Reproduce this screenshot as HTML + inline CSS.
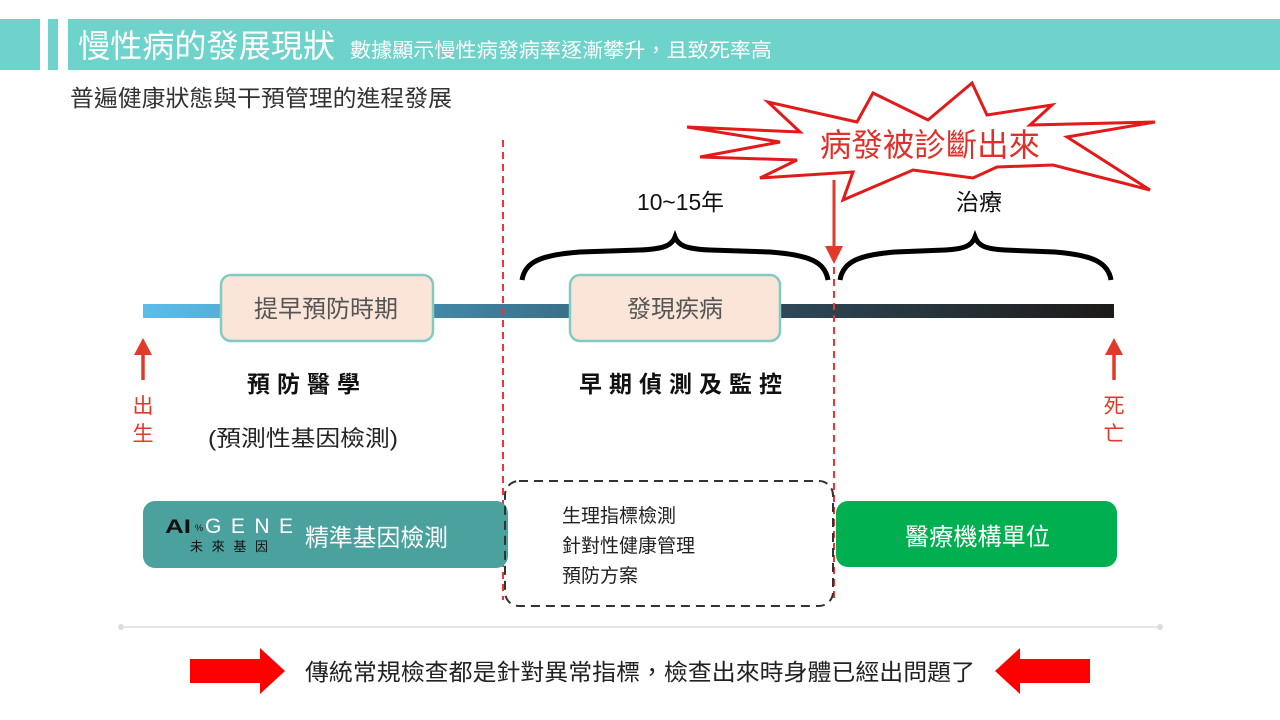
<!DOCTYPE html>
<html><head><meta charset="utf-8"><style>
html,body{margin:0;padding:0;background:#fff;}
svg{display:block;}
text{font-family:"Liberation Sans","Noto Sans CJK TC",sans-serif;}
</style></head><body>
<svg width="1280" height="720" viewBox="0 0 1280 720" xmlns="http://www.w3.org/2000/svg">
<defs>
<linearGradient id="tl" x1="0" x2="1" y1="0" y2="0">
<stop offset="0" stop-color="#5cbdea"/>
<stop offset="0.35" stop-color="#3f7f9c"/>
<stop offset="0.65" stop-color="#2e4a5a"/>
<stop offset="1" stop-color="#1e1a18"/>
</linearGradient>
</defs>
<rect x="0" y="19" width="40" height="51" fill="#6dd3cb"/>
<rect x="48" y="19" width="10" height="51" fill="#6dd3cb"/>
<rect x="68" y="19" width="1212" height="51" fill="#6dd3cb"/>
<text x="78" y="57" font-size="32" fill="#fff" textLength="257" lengthAdjust="spacingAndGlyphs">慢性病的發展現狀</text>
<text x="350" y="57" font-size="20" fill="#fff" textLength="422" lengthAdjust="spacingAndGlyphs">數據顯示慢性病發病率逐漸攀升，且致死率高</text>
<text x="70" y="106" font-size="23" fill="#333" textLength="382" lengthAdjust="spacingAndGlyphs">普遍健康狀態與干預管理的進程發展</text>

<rect x="143" y="304" width="971" height="14" fill="url(#tl)"/>
<rect x="221" y="275" width="212" height="66" rx="10" fill="#fae5d8" stroke="#82cbc2" stroke-width="2.5"/>
<text x="254" y="317" font-size="24" fill="#555" textLength="144" lengthAdjust="spacingAndGlyphs">提早預防時期</text>
<rect x="570" y="275" width="210" height="66" rx="10" fill="#fae5d8" stroke="#82cbc2" stroke-width="2.5"/>
<text x="627" y="317" font-size="24" fill="#555" textLength="96" lengthAdjust="spacingAndGlyphs">發現疾病</text>

<line x1="503" y1="140" x2="503" y2="600" stroke="#e33" stroke-width="2" stroke-dasharray="7,5"/>
<line x1="834" y1="255" x2="834" y2="600" stroke="#e33" stroke-width="2" stroke-dasharray="7,5"/>

<path d="M522,280 C525,262 540,255 580,252 L640,250 C665,249 672,245 675,237 C678,245 685,249 710,250 L770,252 C810,255 825,262 828,280" fill="none" stroke="#000" stroke-width="5"/>
<path d="M840,280 C843,262 858,255 895,252 L945,250 C966,249 972,245 975,237 C978,245 984,249 1005,250 L1055,252 C1092,255 1108,262 1111,280" fill="none" stroke="#000" stroke-width="5"/>
<text x="637" y="210" font-size="23" fill="#111" textLength="87" lengthAdjust="spacingAndGlyphs">10~15年</text>
<text x="956" y="210" font-size="23" fill="#111" textLength="46" lengthAdjust="spacingAndGlyphs">治療</text>

<polygon points="687,127 800,132 768,102 857,122 873,93 928,120 972,83 987,115 1052,105 1030,125 1155,122 1067,137 1150,190 1053,165 997,167 973,178 913,170 843,200 853,172 760,178 797,160 700,157 780,142" fill="#fff" stroke="#e21a1a" stroke-width="3" stroke-linejoin="miter"/>
<text x="820" y="156" font-size="32" fill="#e0302a" textLength="220" lengthAdjust="spacingAndGlyphs">病發被診斷出來</text>
<line x1="834" y1="180" x2="834" y2="248" stroke="#e23a2a" stroke-width="3"/>
<polygon points="825,246 843,246 834,264" fill="#e23a2a"/>

<line x1="143" y1="380" x2="143" y2="352" stroke="#e23a2a" stroke-width="3.5"/>
<polygon points="134,355 152,355 143,338" fill="#e23a2a"/>
<text x="143" y="413" font-size="21" fill="#e23a2a" text-anchor="middle">出</text>
<text x="143" y="441" font-size="21" fill="#e23a2a" text-anchor="middle">生</text>
<line x1="1114" y1="380" x2="1114" y2="352" stroke="#e23a2a" stroke-width="3.5"/>
<polygon points="1105,355 1123,355 1114,338" fill="#e23a2a"/>
<text x="1114" y="413" font-size="21" fill="#e23a2a" text-anchor="middle">死</text>
<text x="1114" y="441" font-size="21" fill="#e23a2a" text-anchor="middle">亡</text>

<text x="247" y="392" font-size="23" font-weight="bold" fill="#111" textLength="113" lengthAdjust="spacing">預防醫學</text>
<text x="208" y="446" font-size="22" fill="#222" textLength="190" lengthAdjust="spacingAndGlyphs">(預測性基因檢測)</text>
<text x="579" y="392" font-size="23" font-weight="bold" fill="#111" textLength="203" lengthAdjust="spacing">早期偵測及監控</text>

<rect x="143" y="501" width="365" height="67" rx="12" fill="#4aa19e"/>
<text x="165" y="533" font-size="19" font-weight="bold" fill="#111" textLength="26" lengthAdjust="spacingAndGlyphs">AI</text>
<text x="195" y="531" font-size="9" fill="#111">%</text>
<text x="205" y="533" font-size="21" fill="#fff" textLength="88" lengthAdjust="spacing">GENE</text>
<text x="190" y="551" font-size="13" fill="#111" textLength="78" lengthAdjust="spacing">未來基因</text>
<text x="305" y="546" font-size="24" fill="#fff" textLength="143" lengthAdjust="spacingAndGlyphs">精準基因檢測</text>

<rect x="505" y="481" width="328" height="125" rx="14" fill="none" stroke="#333" stroke-width="2" stroke-dasharray="9,6"/>
<text x="562" y="522" font-size="19" fill="#222">生理指標檢測</text>
<text x="562" y="552" font-size="19" fill="#222">針對性健康管理</text>
<text x="562" y="582" font-size="19" fill="#222">預防方案</text>

<rect x="836" y="501" width="281" height="66" rx="12" fill="#00b050"/>
<text x="905" y="545" font-size="24" fill="#fff" textLength="145" lengthAdjust="spacingAndGlyphs">醫療機構單位</text>

<line x1="121" y1="627" x2="1160" y2="627" stroke="#ddd" stroke-width="1.5"/>
<circle cx="121" cy="627" r="3" fill="#ddd"/>
<circle cx="1160" cy="627" r="3" fill="#ddd"/>

<polygon points="190,659 260,659 260,648 285,671 260,694 260,683 190,683" fill="#f00"/>
<polygon points="1090,659 1020,659 1020,648 995,671 1020,694 1020,683 1090,683" fill="#f00"/>
<text x="305" y="680" font-size="23" fill="#222" textLength="670" lengthAdjust="spacingAndGlyphs">傳統常規檢查都是針對異常指標，檢查出來時身體已經出問題了</text>
</svg>
</body></html>
